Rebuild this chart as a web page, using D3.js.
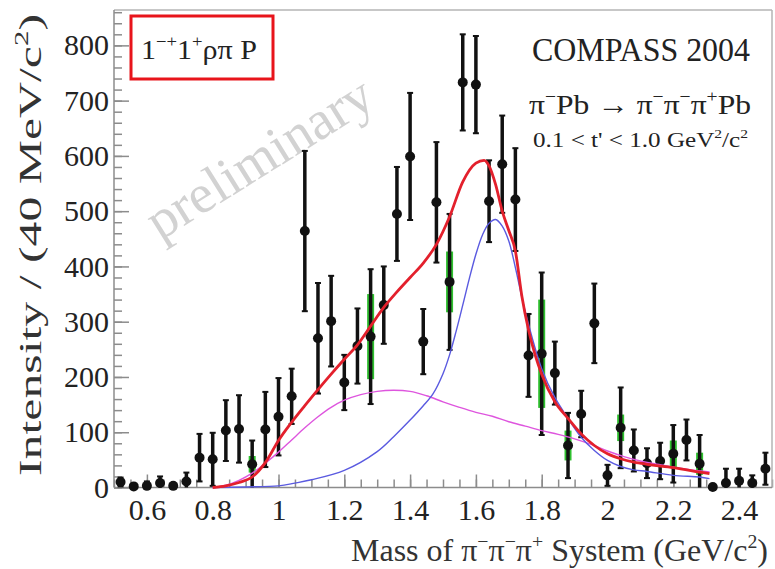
<!DOCTYPE html>
<html>
<head>
<meta charset="utf-8">
<script src="https://cdn.jsdelivr.net/npm/d3@7"></script>
<style>
  html, body { margin: 0; padding: 0; background: #fff; }
  svg { display: block; font-family: "Liberation Serif", "Times New Roman", serif; }
</style>
</head>
<body>
<svg id="chart" width="775" height="569"></svg>
<script>
// 3-pion mass bins (bin centres, GeV/c^2), 40 MeV wide
const massBins = [0.52,0.56,0.60,0.64,0.68,0.72,0.76,0.80,0.84,0.88,0.92,0.96,
  1.00,1.04,1.08,1.12,1.16,1.20,1.24,1.28,1.32,1.36,1.40,1.44,1.48,1.52,1.56,1.60,
  1.64,1.68,1.72,1.76,1.80,1.84,1.88,1.92,1.96,2.00,2.04,2.08,2.12,2.16,2.20,2.24,
  2.28,2.32,2.36,2.40,2.44,2.48];

// Wave intensity per bin
const intensity = [10,2,3,8,3,11, 54,51,103,106,42,105, 128,165,464,270,301,190,
  256,273,330,495,599,264, 516,372,733,729,518,585, 521,239,242,207,76,133,
  297,22,108,67,44,48, 61,86,43,1,8,12, 8,34];

// Statistical errors (half-length of black bars)
const statError = [8,4,8,12,4,16, 43,48,55,61,43,68, 70,50,145,100,82,50,
  68,122,70,85,115,59, 109,123,87,88,74,88, 93,75,147,57,59,42,
  72,19,73,38,27,33, 52,37,52,4,26,22, 14,29];

// Systematic errors (half-height of green bands), 0 = none
const sysError = [0,0,0,0,0,0, 0,0,0,0,15,0, 0,0,0,0,0,0,
  0,77,0,0,0,0, 0,55,0,0,0,0, 0,0,98,0,27,0,
  0,0,24,0,0,0, 24,0,20,0,0,0, 0,0];

// Total fit (red)
const totalMass = [0.80,0.84,0.88,0.92,0.96,1.00,1.04,1.08,1.12,1.16,1.20,1.24,1.28,
  1.32,1.36,1.40,1.44,1.48,1.52,1.56,1.60,1.625,1.64,1.66,1.68,1.70,1.72,1.74,1.76,
  1.78,1.80,1.84,1.88,1.92,1.96,2.00,2.04,2.08,2.12,2.20,2.28,2.31];
const totalFit = [0,3,9,19,45,85,118,148,177,205,232,258,292,
  326,354,380,406,440,490,553,587,592,582,548,500,465,428,345,285,
  240,205,155,125,97,76,61,52,46,42,36,28,25];

// Resonance component (blue)
const peakMass = [0.80,0.90,1.00,1.05,1.10,1.20,1.30,1.35,1.40,1.44,1.47,1.50,1.52,
  1.54,1.56,1.58,1.60,1.62,1.64,1.66,1.68,1.70,1.72,1.75,1.80,1.84,1.88,1.92,1.96,
  2.00,2.04,2.08,2.12,2.20,2.28,2.31];
const peakFit = [0,1,3,8,14,31,65,92,122,148,170,206,240,
  283,330,378,422,457,478,485,473,446,398,318,215,163,125,91,67,
  49,38,32,29,22,19,16];

// Background component (magenta)
const broadMass = [0.80,0.84,0.88,0.92,0.96,1.00,1.04,1.08,1.12,1.16,1.20,1.25,1.30,
  1.35,1.40,1.45,1.50,1.55,1.60,1.65,1.70,1.75,1.80,1.85,1.90,1.95,2.00,2.05,2.10,
  2.15,2.20,2.25,2.31];
const broadFit = [0,4,13,26,44,64,86,108,128,145,158,168,174,
  176,174,166,155,145,136,129,119,111,103,96,88,78,66,56,48,
  42,37,32,28];

const xTickValues = [0.6,0.8,1.0,1.2,1.4,1.6,1.8,2.0,2.2,2.4];
const yTickValues = [0,100,200,300,400,500,600,700,800];

const svg = d3.select("#chart");
const L = 114, R = 772, T = 10, B = 487.5;

const x = d3.scaleLinear().domain([0.5, 2.5]).range([L, R]);
const y = d3.scaleLinear().domain([0, 864]).range([B, T]).clamp(true);

// watermark
svg.append("text")
  .attr("transform", "translate(160,241) rotate(-32)")
  .attr("font-size", 55)
  .attr("fill", "#d2d2d2")
  .text("preliminary");

// text with superscripts
function richText(parent, parts, fs) {
  const t = parent.append("text").attr("font-size", fs);
  let shift = 0;
  parts.forEach(p => {
    const sp = t.append("tspan").text(p.t);
    const target = p.sup ? -0.42 * fs : 0;
    if (target !== shift) sp.attr("dy", target - shift);
    shift = target;
    if (p.sup) sp.attr("font-size", 0.62 * fs);
  });
  return t;
}

// axes
function styleAxis(g) {
  g.select(".domain").remove();
  g.selectAll(".tick line").attr("stroke", "#8c8c8c").attr("stroke-width", 1.5);
  g.selectAll(".tick text").attr("font-size", 30).attr("fill", "#222")
    .attr("font-family", "Liberation Serif, Times New Roman, serif");
}

svg.append("g").attr("transform", `translate(0,${B})`)
  .call(d3.axisBottom(x).tickValues(d3.range(0, 41).map(i => 0.5 + i * 0.05))
    .tickSize(-8).tickFormat(""))
  .call(styleAxis);
svg.append("g").attr("transform", `translate(0,${B})`)
  .call(d3.axisBottom(x).tickValues(xTickValues).tickSize(-13).tickPadding(11)
    .tickFormat(d3.format("~g")))
  .call(styleAxis);

svg.append("g").attr("transform", `translate(${L},0)`)
  .call(d3.axisLeft(y).tickValues(d3.range(0, 44).map(i => i * 20))
    .tickSize(-8).tickFormat(""))
  .call(styleAxis);
svg.append("g").attr("transform", `translate(${L},0)`)
  .call(d3.axisLeft(y).tickValues(yTickValues).tickSize(-15).tickPadding(5))
  .call(styleAxis);

// frame
svg.append("line").attr("x1", L).attr("x2", R).attr("y1", T).attr("y2", T)
  .attr("stroke", "#b5b5b5").attr("stroke-width", 1.5);
svg.append("line").attr("x1", R).attr("x2", R).attr("y1", T).attr("y2", B)
  .attr("stroke", "#b5b5b5").attr("stroke-width", 1.5);
svg.append("line").attr("x1", L).attr("x2", R).attr("y1", B).attr("y2", B)
  .attr("stroke", "#8c8c8c").attr("stroke-width", 1.5);
svg.append("line").attr("x1", L).attr("x2", L).attr("y1", T).attr("y2", B)
  .attr("stroke", "#8c8c8c").attr("stroke-width", 1.5);

// data points
const pts = massBins.map((m, i) => ({ m, v: intensity[i], e: statError[i], s: sysError[i] }));
const dataG = svg.append("g");

dataG.selectAll("rect.sys").data(pts.filter(d => d.s > 0)).join("rect")
  .attr("class", "sys")
  .attr("x", d => x(d.m) - 3.5).attr("width", 7)
  .attr("y", d => y(d.v + d.s)).attr("height", d => y(d.v - d.s) - y(d.v + d.s))
  .attr("fill", "#2fc02f");

dataG.selectAll("line.bar").data(pts).join("line")
  .attr("class", "bar")
  .attr("x1", d => x(d.m)).attr("x2", d => x(d.m))
  .attr("y1", d => y(d.v + d.e)).attr("y2", d => y(d.v - d.e))
  .attr("stroke", "#111").attr("stroke-width", 3.5);

const caps = [];
pts.forEach(d => {
  caps.push({ m: d.m, v: d.v + d.e });
  if (d.v - d.e > 0) caps.push({ m: d.m, v: d.v - d.e });
});
dataG.selectAll("line.cap").data(caps).join("line")
  .attr("class", "cap")
  .attr("x1", d => x(d.m) - 3).attr("x2", d => x(d.m) + 3)
  .attr("y1", d => y(d.v)).attr("y2", d => y(d.v))
  .attr("stroke", "#111").attr("stroke-width", 2);

dataG.selectAll("circle").data(pts).join("circle")
  .attr("cx", d => x(d.m)).attr("cy", d => y(d.v)).attr("r", 5)
  .attr("fill", "#111");

// fit curves
const smooth = d3.line().x(d => x(d[0])).y(d => y(d[1])).curve(d3.curveCatmullRom.alpha(0.5));
const sharp = d3.line().x(d => x(d[0])).y(d => y(d[1])).curve(d3.curveMonotoneX);
svg.append("path").datum(broadMass.map((m, i) => [m, broadFit[i]]))
  .attr("d", smooth).attr("fill", "none").attr("stroke", "#de55de").attr("stroke-width", 1.4);
svg.append("path").datum(peakMass.map((m, i) => [m, peakFit[i]]))
  .attr("d", smooth).attr("fill", "none").attr("stroke", "#5a5ae0").attr("stroke-width", 1.4);
svg.append("path").datum(totalMass.map((m, i) => [m, totalFit[i]]))
  .attr("d", sharp).attr("fill", "none").attr("stroke", "#e3202c").attr("stroke-width", 2.8);

// wave label box
svg.append("rect").attr("x", 131).attr("y", 16).attr("width", 142).attr("height", 63)
  .attr("fill", "none").attr("stroke", "#e8141b").attr("stroke-width", 3);
richText(svg, [{ t: "1" }, { t: "\u2212+", sup: true }, { t: "1" }, { t: "+", sup: true }, { t: "\u03c1\u03c0 P" }], 28)
  .attr("x", 141).attr("y", 59).attr("fill", "#222")
  .attr("textLength", 116).attr("lengthAdjust", "spacingAndGlyphs");

// experiment labels
svg.append("text").attr("x", 750).attr("y", 61).attr("text-anchor", "end")
  .attr("font-size", 33).attr("fill", "#222")
  .attr("textLength", 218).attr("lengthAdjust", "spacingAndGlyphs")
  .text("COMPASS 2004");
richText(svg, [{ t: "\u03c0" }, { t: "\u2212", sup: true }, { t: "Pb \u2192 \u03c0" }, { t: "\u2212", sup: true },
  { t: "\u03c0" }, { t: "\u2212", sup: true }, { t: "\u03c0" }, { t: "+", sup: true }, { t: "Pb" }], 28)
  .attr("x", 751).attr("y", 114).attr("text-anchor", "end").attr("fill", "#222")
  .attr("textLength", 222).attr("lengthAdjust", "spacingAndGlyphs");
richText(svg, [{ t: "0.1 < t' < 1.0 GeV" }, { t: "2", sup: true }, { t: "/c" }, { t: "2", sup: true }], 21)
  .attr("x", 748).attr("y", 147).attr("text-anchor", "end").attr("fill", "#222")
  .attr("textLength", 215).attr("lengthAdjust", "spacingAndGlyphs");

// axis titles
richText(svg, [{ t: "Mass of \u03c0" }, { t: "\u2212", sup: true }, { t: "\u03c0" }, { t: "\u2212", sup: true },
  { t: "\u03c0" }, { t: "+", sup: true }, { t: " System (GeV/c" }, { t: "2", sup: true }, { t: ")" }], 32)
  .attr("x", 768).attr("y", 561).attr("text-anchor", "end").attr("fill", "#333")
  .attr("textLength", 417).attr("lengthAdjust", "spacingAndGlyphs");
richText(svg, [{ t: "Intensity / (40 MeV/c" }, { t: "2", sup: true }, { t: ")" }], 31)
  .attr("transform", "translate(41,245) rotate(-90)").attr("text-anchor", "middle").attr("fill", "#333")
  .attr("textLength", 462).attr("lengthAdjust", "spacingAndGlyphs");
</script>
</body>
</html>
